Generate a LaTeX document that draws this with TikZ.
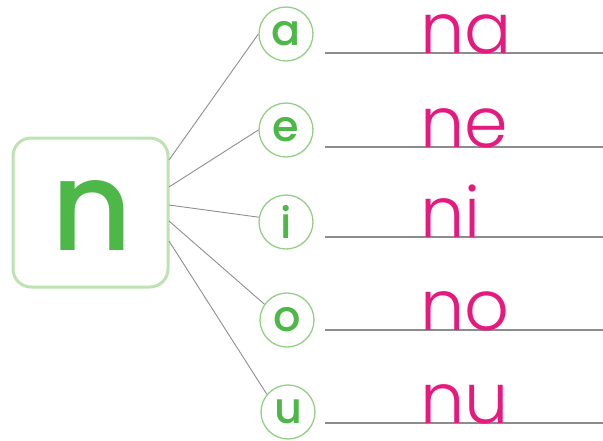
\documentclass[tikz,border=0pt]{standalone}
\usepackage{fontspec}
\setmainfont{Poppins}
\newfontfamily\popl{Poppins Light}
\newfontfamily\popm{Poppins Medium}
\definecolor{lgreen}{HTML}{4DB848}
\definecolor{cgreen}{HTML}{92CF84}
\definecolor{boxgreen}{HTML}{BDE3B2}
\definecolor{pinky}{HTML}{E6197F}
\definecolor{rulegray}{HTML}{8C8C8C}
\definecolor{conngray}{HTML}{8F8F8F}
\tikzset{
  vowel/.style={circle, draw=cgreen, line width=1.3pt, minimum size=54pt, inner sep=0pt,
    text=lgreen, font=\popm\fontsize{43}{43}\selectfont},
  syll/.style={anchor=base west, inner sep=0pt, text=pinky, font=\popl\fontsize{70}{70}\selectfont},
  writeline/.style={draw=rulegray, line width=1.6pt},
  conn/.style={draw=conngray, line width=0.9pt},
}
\begin{document}
\begin{tikzpicture}[x=1pt,y=-1pt]
\useasboundingbox[fill=white] (0,0) rectangle (603,440);
\node[draw=boxgreen, line width=3pt, rounded corners=18pt, minimum width=155pt, minimum height=149pt, inner sep=0pt] (box) at (90.5,212.5) {};
\node[anchor=base, inner sep=0pt, text=lgreen, font=\popm\fontsize{125}{125}\selectfont] (big) at (92.5,250) {n};
% vowels
\node[vowel] (ca) at (286,34) {a};
\node[vowel] (ce) at (286,130) {e};
\node[vowel] (ci) at (286,222) {i};
\node[vowel] (co) at (287,320) {o};
\node[vowel] (cu) at (288,412) {u};
% connector starts
\coordinate (sa) at (169,160);
\coordinate (se) at (169,187);
\coordinate (si) at (169,205);
\coordinate (so) at (169,221);
\coordinate (su) at (169,241);
\draw[conn] (sa) -- (ca.west);
\draw[conn] (se) -- (ce.west);
\draw[conn] (si) -- (ci.170);
\draw[conn] (so) -- (co.145);
\draw[conn] (su) -- (cu.140);
% writing lines
\coordinate (la) at (325,53);  \coordinate (ra) at (603,53);
\coordinate (le) at (325,147); \coordinate (re) at (603,147);
\coordinate (li) at (325,237); \coordinate (ri) at (603,237);
\coordinate (lo) at (325,330); \coordinate (ro) at (603,330);
\coordinate (lu) at (325,423); \coordinate (ru) at (603,423);
\draw[writeline] (la) -- (ra);
\draw[writeline] (le) -- (re);
\draw[writeline] (li) -- (ri);
\draw[writeline] (lo) -- (ro);
\draw[writeline] (lu) -- (ru);
% syllables
\node[syll] (ta) at (420,53) {na};
\node[syll] (te) at (420,147) {ne};
\node[syll] (ti) at (420,237) {ni};
\node[syll] (to) at (420,330) {no};
\node[syll] (tu) at (420,423) {nu};
\end{tikzpicture}
\end{document}
